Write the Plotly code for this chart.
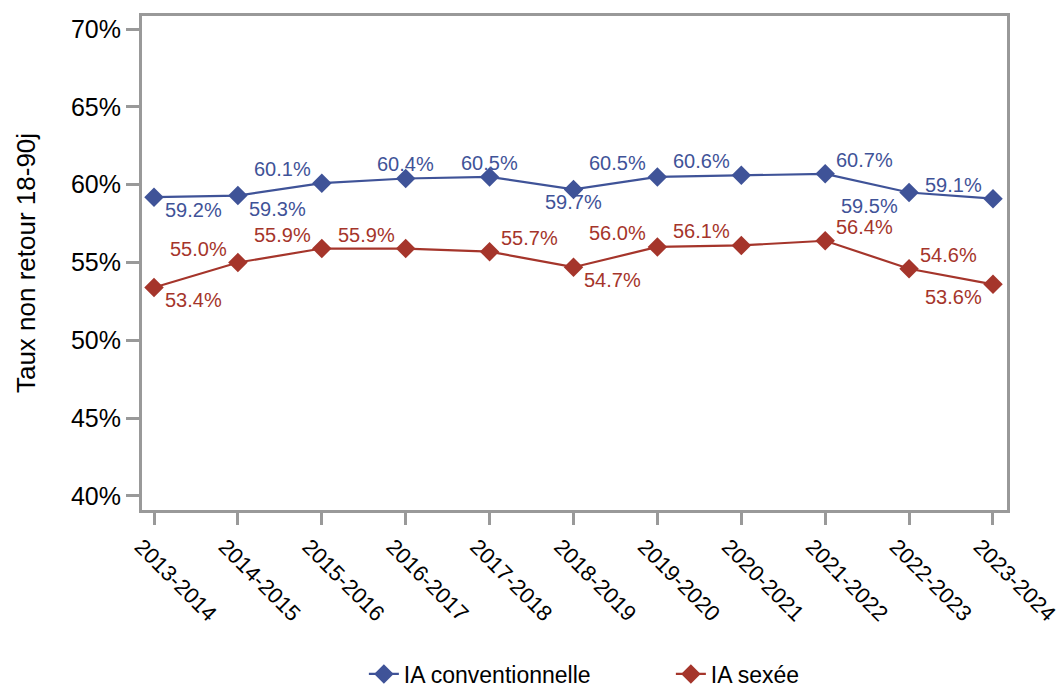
import plotly.graph_objects as go

categories = ["2013-2014", "2014-2015", "2015-2016", "2016-2017", "2017-2018", "2018-2019",
              "2019-2020", "2020-2021", "2021-2022", "2022-2023", "2023-2024"]
conv = [0.592, 0.593, 0.601, 0.604, 0.605, 0.597, 0.605, 0.606, 0.607, 0.595, 0.591]
sexee = [0.534, 0.550, 0.559, 0.559, 0.557, 0.547, 0.560, 0.561, 0.564, 0.546, 0.536]
conv_pos = ["bottom right", "bottom right", "top left", "top center", "top center", "bottom center",
            "top left", "top left", "top right", "bottom left", "top left"]
sexee_pos = ["bottom right", "top left", "top left", "top left", "top right", "bottom right",
             "top left", "top left", "top right", "top right", "bottom left"]

blue = "#3F5398"
red = "#A5352B"
font = "Liberation Sans, Arial, sans-serif"
label_font = "Liberation Sans Narrow, Arial Narrow, Liberation Sans, sans-serif"

fig = go.Figure()
annotations = []
for name, vals, pos, col in [("IA conventionnelle", conv, conv_pos, blue),
                             ("IA sexée", sexee, sexee_pos, red)]:
    fig.add_trace(go.Scatter(
        x=categories, y=vals, name=name, mode="lines+markers",
        line=dict(color=col, width=2.2),
        marker=dict(symbol="diamond", size=15, color=col),
    ))
    for c, v, p in zip(categories, vals, pos):
        vert, horiz = p.split()
        xanchor = {"left": "right", "right": "left", "center": "center"}[horiz]
        xshift = {"left": -9, "right": 9, "center": 0}[horiz]
        yshift = 14 if vert == "top" else -13
        annotations.append(dict(
            x=c, y=v, xref="x", yref="y", text=f"{v*100:.1f}%", showarrow=False,
            xanchor=xanchor, yanchor="middle", xshift=xshift, yshift=yshift,
            font=dict(color=col, size=20, family=label_font),
        ))

fig.update_layout(
    width=1064, height=687,
    margin=dict(l=142, r=57, t=16, b=177, autoexpand=False),
    paper_bgcolor="white", plot_bgcolor="white",
    font=dict(family=font, color="black", size=25),
    showlegend=True,
    legend=dict(orientation="h", x=0.2565, xanchor="left", y=-0.332, yanchor="middle",
                font=dict(size=23), itemwidth=30, entrywidth=262, entrywidthmode="pixels"),
    annotations=annotations,
)
fig.update_xaxes(
    type="category", range=[-0.143, 10.167], tickangle=45, automargin=False,
    showline=True, mirror=True, linecolor="#999999", linewidth=3,
    ticks="outside", ticklen=12, tickwidth=3, tickcolor="#999999",
    showgrid=False, tickfont=dict(size=22), ticklabelshift=-13,
)
fig.update_yaxes(
    range=[0.3910, 0.7084], tickformat=".0%", dtick=0.05, tick0=0.40, automargin=False,
    showline=True, mirror=True, linecolor="#999999", linewidth=3,
    ticks="outside", ticklen=13, tickwidth=3, tickcolor="#999999",
    showgrid=False, zeroline=False, tickfont=dict(size=25),
    title=dict(text="Taux non retour 18-90j", font=dict(size=26), standoff=28),
)

fig.write_html("out.html", config={"displayModeBar": False},
               post_script="document.body.style.margin='0';")
